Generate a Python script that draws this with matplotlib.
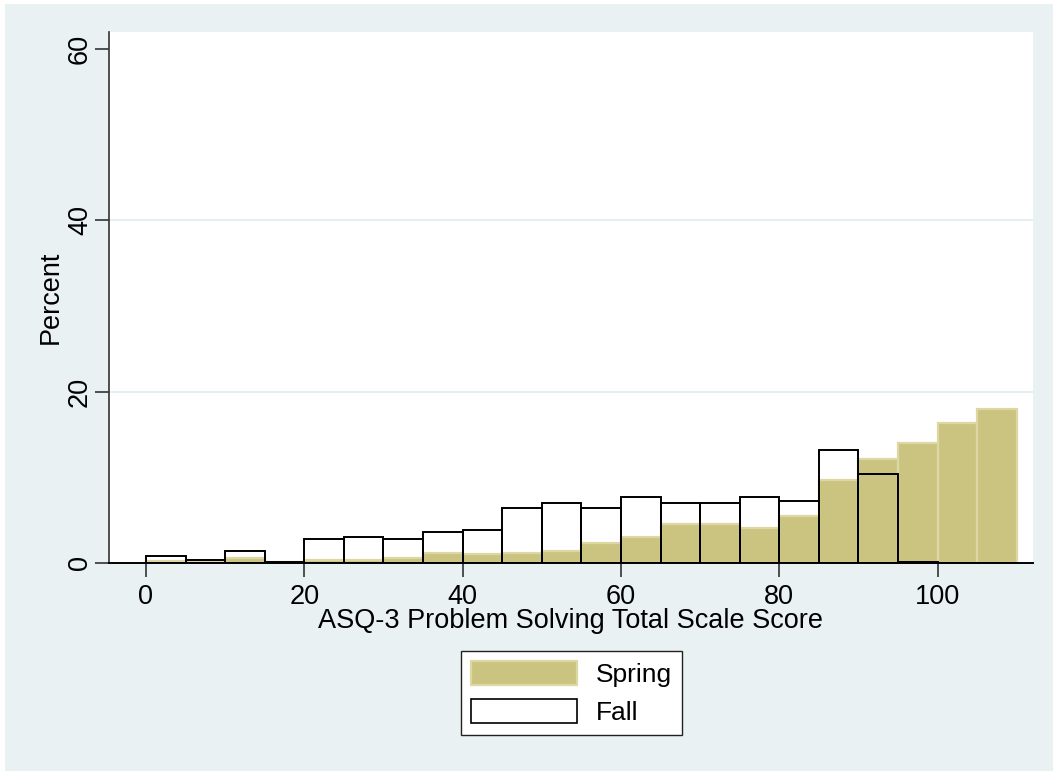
import matplotlib
matplotlib.use("Agg")
import matplotlib.pyplot as plt
from matplotlib.patches import Rectangle, Patch

plt.rcParams['font.family'] = ['Liberation Sans', 'DejaVu Sans']

bin_edges = [0, 5, 10, 15, 20, 25, 30, 35, 40, 45, 50, 55, 60, 65, 70, 75, 80, 85, 90, 95, 100, 105]
spring = [0.28, 0.1, 0.58, 0.1, 0.3, 0.3, 0.58, 1.2, 1.0, 1.2, 1.4, 2.33, 3.03, 4.55, 4.55, 4.12,
          5.48, 9.72, 12.17, 14.0, 16.37, 17.97]
fall = [0.85, 0.4, 1.45, 0.17, 2.8, 3.03, 2.8, 3.6, 3.85, 6.4, 7.0, 6.42, 7.65, 7.0, 7.0, 7.65,
        7.23, 13.2, 10.4, 0.15, 0.0, 0.0]
xticks = [0, 20, 40, 60, 80, 100]
yticks = [0, 20, 40, 60]
series_names = ["Spring", "Fall"]
xlabel = "ASQ-3 Problem Solving Total Scale Score"
ylabel = "Percent"

W, H = 1053, 771
fig = plt.figure(figsize=(W / 100, H / 100), dpi=100, facecolor='white')
bg = '#EAF1F3'
fig.add_artist(Rectangle((5 / W, 0), 1 - 5 / W, 1 - 4 / H, transform=fig.transFigure,
                         facecolor=bg, edgecolor='none', zorder=-10))

ax = fig.add_axes([109 / W, 1 - 563 / H, (1033 - 109) / W, (563 - 32) / H])
ax.set_zorder(1)
ax.set_facecolor('white')

spring_fc = '#CBC380'
spring_ec = '#DDD7A3'
ax.bar(bin_edges, spring, width=5, align='edge', facecolor=spring_fc, edgecolor=spring_ec,
       linewidth=1.6, zorder=2)
ax.bar(bin_edges, fall, width=5, align='edge', facecolor='none', edgecolor='black',
       linewidth=1.4, zorder=3)

ax.set_xlim(-4.67, 112.05)
ax.set_ylim(0, 62.0)
ax.set_xticks(xticks)
ax.set_yticks(yticks)
for g in [20, 40]:
    ax.axhline(g, color='#E6EEF1', linewidth=1.5, zorder=1)

for s in ['top', 'right']:
    ax.spines[s].set_visible(False)
ax.spines['left'].set_color('#333333')
ax.spines['bottom'].set_color('black')
ax.spines['left'].set_linewidth(1.2)
ax.spines['bottom'].set_linewidth(1.4)
ax.tick_params(axis='both', direction='out', length=10, width=1.2, color='#333333',
               labelsize=19.5)
ax.tick_params(axis='x', pad=5)
ax.tick_params(axis='y', pad=1.5)
for lab in ax.get_yticklabels():
    lab.set_rotation(90)
    lab.set_va('center')

ax.set_xlabel(xlabel, fontsize=19.5, labelpad=-1)
ax.set_ylabel(ylabel, fontsize=19.5, labelpad=2)

handles = [Patch(facecolor=spring_fc, edgecolor=spring_ec, linewidth=1.6),
           Patch(facecolor='white', edgecolor='black', linewidth=1.2)]
leg = fig.legend(handles, series_names, loc='center',
                 bbox_to_anchor=(571.5 / W, 1 - 693 / H), fontsize=19,
                 handlelength=4.0, handleheight=1.0, handletextpad=0.7,
                 labelspacing=0.45, borderpad=0.4, fancybox=False, framealpha=1,
                 edgecolor='#222222')
leg.get_frame().set_linewidth(1.0)

fig.savefig('out.png', dpi=100, facecolor=fig.get_facecolor())
